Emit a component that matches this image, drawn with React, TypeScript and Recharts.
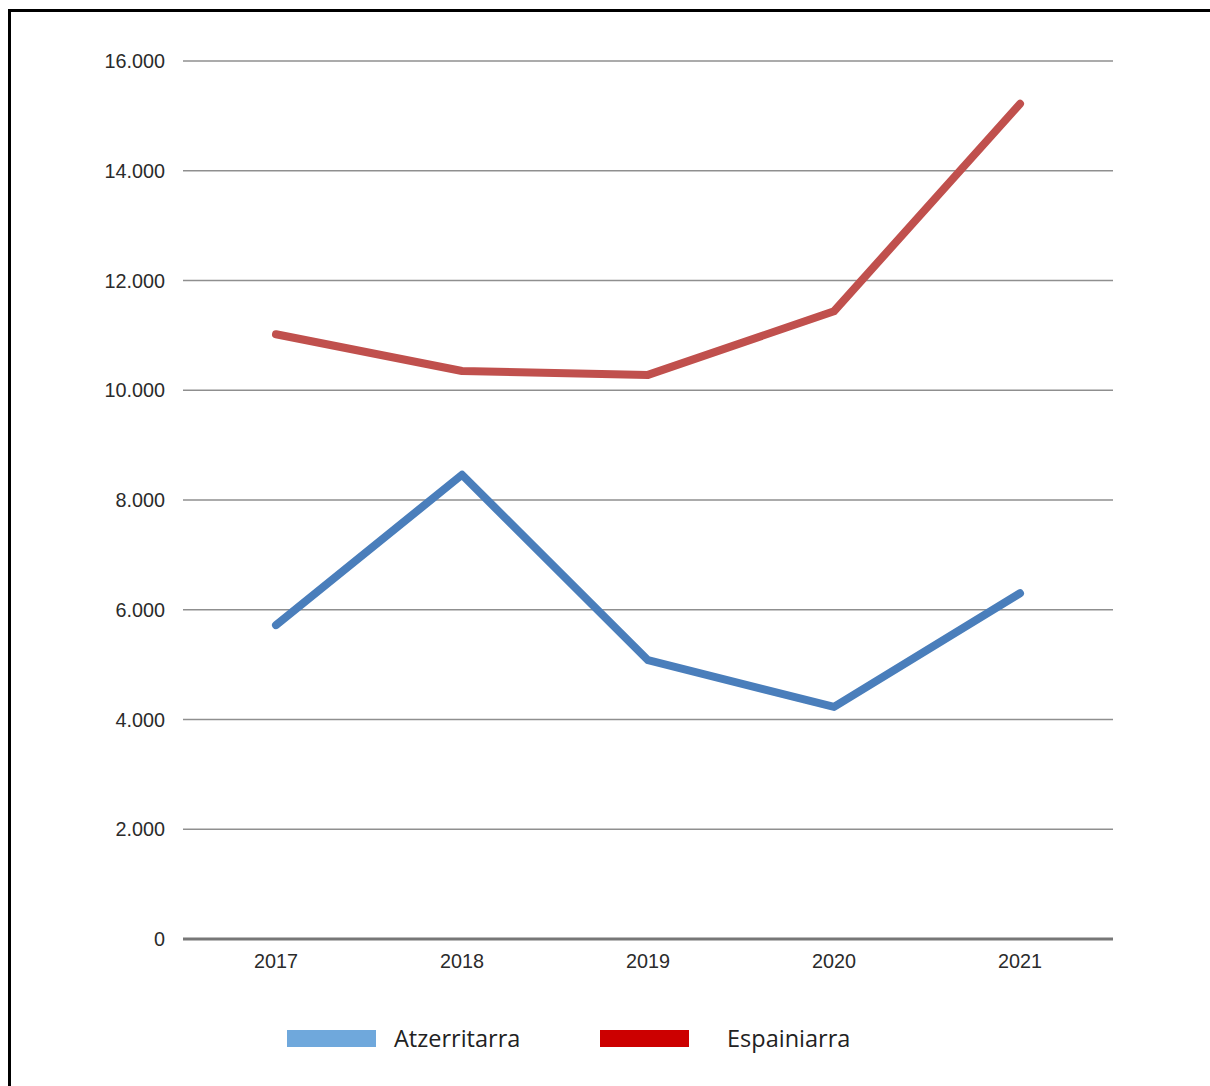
import React from 'react';
import { LineChart, Line, XAxis, YAxis, CartesianGrid } from 'recharts';

const years = ['2017', '2018', '2019', '2020', '2021'];
const atzerritarra = [5720, 8460, 5080, 4230, 6300];
const espainiarra = [11020, 10350, 10280, 11440, 15220];
const yTicks = [0, 2000, 4000, 6000, 8000, 10000, 12000, 14000, 16000];

const series = [
  { key: 'atzerritarra', name: 'Atzerritarra', line: '#4a7ebb', swatch: '#6fa8dc' },
  { key: 'espainiarra', name: 'Espainiarra', line: '#c0504d', swatch: '#cc0000' },
];

const data = years.map((year, i) => ({
  year,
  atzerritarra: atzerritarra[i],
  espainiarra: espainiarra[i],
}));

const fmt = (v: number) => String(v).replace(/\B(?=(\d{3})+(?!\d))/g, '.');

const tickStyle = { fontFamily: '"Liberation Sans", Arial, sans-serif', fontSize: 19.8, fill: '#2b2b2b' };

export default function App() {
  return (
    <div
      style={{
        position: 'absolute',
        left: 8,
        top: 9,
        width: 1202,
        height: 1077,
        borderTop: '3px solid #000',
        borderLeft: '3px solid #000',
        boxSizing: 'border-box',
        background: '#fff',
      }}
    >
      <div style={{ position: 'absolute', left: 0, top: 0 }}>
        <LineChart width={1190} height={1000} data={data} margin={{ top: 49, right: 88, bottom: 43, left: 92 }}>
          <CartesianGrid vertical={false} stroke="#8f8f8f" strokeWidth={1.6} />
          <XAxis
            dataKey="year"
            padding={{ left: 93, right: 93 }}
            height={30}
            tickSize={0}
            tickMargin={15}
            tick={tickStyle}
            axisLine={{ stroke: '#777', strokeWidth: 3 }}
            tickLine={false}
          />
          <YAxis
            width={80}
            domain={[0, 16000]}
            ticks={yTicks}
            tickFormatter={fmt}
            tickSize={0}
            tickMargin={18}
            tick={tickStyle}
            axisLine={false}
            tickLine={false}
            interval={0}
          />
          {series.map((s) => (
            <Line
              key={s.key}
              type="linear"
              dataKey={s.key}
              name={s.name}
              stroke={s.line}
              strokeWidth={8}
              strokeLinecap="round"
              strokeLinejoin="round"
              dot={false}
              activeDot={false}
              isAnimationActive={false}
            />
          ))}
        </LineChart>
      </div>
      <div
        style={{
          position: 'absolute',
          left: 276,
          top: 1008,
          display: 'flex',
          alignItems: 'center',
          fontFamily: '"Open Sans", sans-serif',
          fontSize: 23.5,
          color: '#222',
        }}
      >
        {series.map((s, i) => (
          <div
            key={s.key}
            style={{ display: 'flex', alignItems: 'center', width: i === 0 ? 313 : 'auto', height: 36 }}
          >
            <div style={{ width: 89, height: 17, background: s.swatch, marginRight: i === 0 ? 18 : 38 }} />
            <span>{s.name}</span>
          </div>
        ))}
      </div>
    </div>
  );
}
